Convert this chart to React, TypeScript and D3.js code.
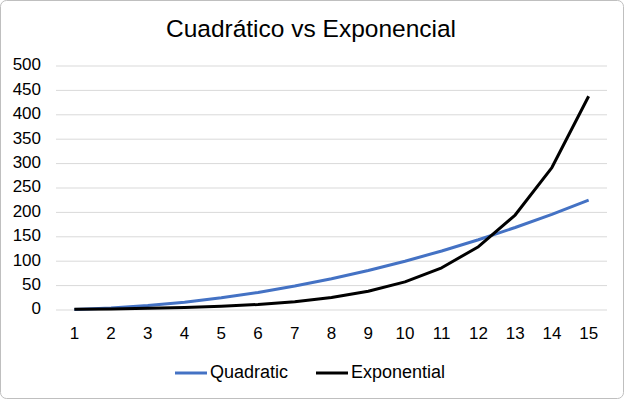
import * as d3 from 'd3';
import { useEffect, useRef } from 'react';

const xValues = [1, 2, 3, 4, 5, 6, 7, 8, 9, 10, 11, 12, 13, 14, 15];
const quadratic = [1, 4, 9, 16, 25, 36, 49, 64, 81, 100, 121, 144, 169, 196, 225];
const exponential = [1.5, 2.3, 3.4, 5.1, 7.6, 11.4, 17.1, 25.6, 38.4, 57.7, 86.5, 129.7, 194.6, 291.9, 437.9];
const yTicks = [0, 50, 100, 150, 200, 250, 300, 350, 400, 450, 500];

const W = 624;
const H = 399;

const App = () => {
  const ref = useRef<SVGSVGElement>(null);

  useEffect(() => {
    const svg = d3.select(ref.current);
    svg.selectAll('*').remove();

    // bordes del grafico
    const margin = { top: 66, bottom: 89, left: 56, right: 17 };
    const bw = W - margin.left - margin.right;
    const bh = H - margin.top - margin.bottom;

    svg.append('rect')
      .attr('x', 0.5).attr('y', 0.5)
      .attr('width', W - 1).attr('height', H - 1)
      .attr('rx', 6)
      .style('fill', 'white')
      .style('stroke', '#bfbfbf');

    const font = 'Liberation Sans, Arial, sans-serif';

    svg.append('text')
      .attr('x', 311).attr('y', 31)
      .attr('text-anchor', 'middle')
      .attr('dominant-baseline', 'middle')
      .style('font-family', font)
      .style('font-size', '24.5px')
      .style('fill', '#000')
      .text('Cuadrático vs Exponencial');

    const scaleX = d3.scaleBand<number>()
      .domain(xValues)
      .range([0, bw]);
    const scaleY = d3.scaleLinear()
      .domain([0, 500])
      .range([bh, 0]);

    const g = svg.append('g').attr('transform', `translate(${margin.left}, ${margin.top})`);

    // lineas de la grilla
    g.selectAll('.grid')
      .data(yTicks)
      .enter()
      .append('line')
      .attr('x1', 0).attr('x2', bw)
      .attr('y1', d => scaleY(d)).attr('y2', d => scaleY(d))
      .style('stroke', '#d9d9d9')
      .style('stroke-width', 1);

    g.selectAll('.ylab')
      .data(yTicks)
      .enter()
      .append('text')
      .attr('x', -15)
      .attr('y', d => scaleY(d))
      .attr('text-anchor', 'end')
      .attr('dominant-baseline', 'middle')
      .style('font-family', font)
      .style('font-size', '17px')
      .style('fill', '#000')
      .text(d => d);

    g.selectAll('.xlab')
      .data(xValues)
      .enter()
      .append('text')
      .attr('x', d => scaleX(d)! + scaleX.bandwidth() / 2)
      .attr('y', bh + 25)
      .attr('text-anchor', 'middle')
      .attr('dominant-baseline', 'middle')
      .style('font-family', font)
      .style('font-size', '17px')
      .style('fill', '#000')
      .text(d => d);

    const series = [
      { name: 'Quadratic', values: quadratic, color: '#4472c4' },
      { name: 'Exponential', values: exponential, color: '#000000' },
    ];

    series.forEach(s => {
      const line = d3.line<number>()
        .x((_, i) => scaleX(xValues[i])! + scaleX.bandwidth() / 2)
        .y(d => scaleY(d));
      g.append('path')
        .datum(s.values)
        .attr('d', line)
        .style('fill', 'none')
        .style('stroke', s.color)
        .style('stroke-width', 3)
        .style('stroke-linejoin', 'round');
    });

    // leyenda
    const legendX = [175, 316];
    series.forEach((s, i) => {
      svg.append('line')
        .attr('x1', legendX[i]).attr('x2', legendX[i] + 32)
        .attr('y1', 373).attr('y2', 373)
        .style('stroke', s.color)
        .style('stroke-width', 3);
      svg.append('text')
        .attr('x', legendX[i] + 35).attr('y', 373)
        .attr('dominant-baseline', 'middle')
        .style('font-family', font)
        .style('font-size', '18px')
        .style('fill', '#000')
        .text(s.name);
    });
  }, []);

  return (
    <svg ref={ref} width={W} height={H} style={{ position: 'absolute', left: 0, top: 0 }}></svg>
  );
};

export default App;
